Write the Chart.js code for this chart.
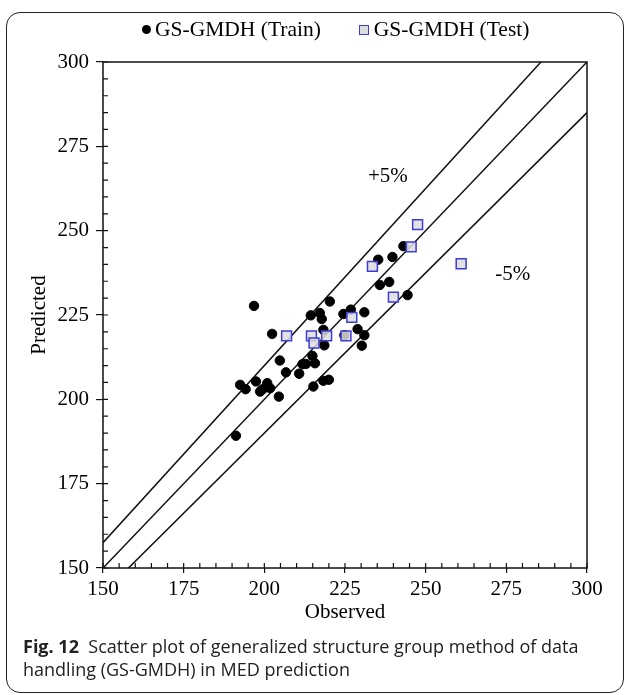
<!DOCTYPE html>
<html lang="en">
<head>
    <meta charset="UTF-8">
    <title>GS-GMDH Scatter</title>
    <script src="https://cdn.jsdelivr.net/npm/chart.js@4/dist/chart.umd.min.js"></script>
    <style>
        body {
            margin: 0;
            width: 627px;
            height: 695px;
            position: relative;
            background: #fff;
            overflow: hidden;
        }
        .frame {
            position: absolute;
            left: 6px;
            top: 12px;
            width: 616px;
            height: 679px;
            border: 1.5px solid #222;
            border-radius: 14px;
        }
        #wrap {
            position: absolute;
            left: 0;
            top: 0;
            width: 627px;
            height: 640px;
        }
        .legend {
            position: absolute;
            left: 142px;
            top: 17px;
            font-family: 'Liberation Serif', 'Times New Roman', serif;
            font-size: 21.5px;
            color: #000;
            display: flex;
            align-items: center;
            white-space: nowrap;
        }
        .dot {
            display: inline-block;
            width: 9px;
            height: 9px;
            border-radius: 50%;
            background: #000;
            margin-right: 4px;
        }
        .sq {
            display: inline-block;
            width: 8px;
            height: 8px;
            background: #ddd;
            border: 1.5px solid #3c3cd8;
            margin-left: 38px;
            margin-right: 5px;
        }
        .caption {
            position: absolute;
            left: 23px;
            top: 635px;
            font-family: 'Open Sans', 'Noto Sans', sans-serif;
            font-size: 18px;
            line-height: 23px;
            color: #222;
            white-space: nowrap;
        }
    </style>
</head>
<body>
    <div class="frame"></div>
    <div id="wrap"><canvas id="chart" width="627" height="640"></canvas></div>
    <div class="legend"><span class="dot"></span>GS-GMDH (Train)<span class="sq"></span>GS-GMDH (Test)</div>
    <div class="caption"><b>Fig. 12</b>&nbsp; Scatter plot of generalized structure group method of data<br>handling (GS-GMDH) in MED prediction</div>

    <script>
        // training points
        const trainObs = [196.8, 220.3, 235.3, 239.7, 243.1, 235.8, 238.7, 244.4, 214.4, 217.2,
                          217.8, 224.5, 226.8, 231.0, 218.3, 228.9, 231.0, 230.2, 202.4, 218.6,
                          224.8, 214.9, 215.7, 211.8, 212.9, 210.8, 204.8, 206.7, 192.5, 194.2,
                          197.4, 198.7, 200.9, 201.8, 199.5, 204.5, 215.2, 218.3, 220.0, 191.2];
        const trainPred = [227.7, 229.0, 241.4, 242.2, 245.4, 233.9, 234.8, 230.9, 224.9, 225.6,
                           223.8, 225.3, 226.6, 225.8, 220.6, 220.8, 219.0, 215.9, 219.4, 216.0,
                           219.0, 212.9, 210.7, 210.4, 210.5, 207.6, 211.5, 208.0, 204.3, 203.0,
                           205.3, 202.3, 204.8, 203.3, 203.0, 200.8, 203.8, 205.5, 205.8, 189.2];

        // test points
        const testObs = [247.5, 245.5, 233.5, 261.0, 240.0, 227.1, 206.9, 214.6, 219.3, 225.3, 215.4];
        const testPred = [251.8, 245.2, 239.4, 240.2, 230.3, 224.3, 218.8, 218.8, 218.8, 218.8, 216.7];

        // reference lines: y = ratio * x
        const lineRatios = [1.05, 1.0, 0.95];
        const axisMin = 150, axisMax = 300;
        const tickValues = [150, 175, 200, 225, 250, 275, 300];
        const bandLabels = [
            { text: '+5%', x: 238.3, y: 266 },
            { text: '-5%', x: 277, y: 237 }
        ];

        const serif = "'Liberation Serif', 'Times New Roman', serif";

        const toPoints = (xs, ys) => xs.map((x, i) => ({ x: x, y: ys[i] }));

        const lineSets = lineRatios.map(r => ({
            type: 'line',
            data: [{ x: axisMin, y: axisMin * r }, { x: axisMax, y: axisMax * r }],
            borderColor: '#111',
            borderWidth: 1.5,
            pointRadius: 0,
            fill: false,
            order: 3
        }));

        // box around plot + small inner ticks + % labels
        const frameTicks = {
            id: 'frameTicks',
            afterDatasetsDraw(chart) {
                const { ctx, chartArea: a, scales } = chart;
                ctx.save();
                ctx.strokeStyle = '#111';
                ctx.lineWidth = 1.5;
                ctx.strokeRect(a.left, a.top, a.right - a.left, a.bottom - a.top);
                ctx.lineWidth = 1.2;
                ctx.beginPath();
                for (let v = axisMin; v <= axisMax; v += 5) {
                    const py = scales.y.getPixelForValue(v);
                    ctx.moveTo(a.left, py);
                    ctx.lineTo(a.left + 5, py);
                    const px = scales.x.getPixelForValue(v);
                    ctx.moveTo(px, a.bottom);
                    ctx.lineTo(px, a.bottom - 5);
                }
                ctx.stroke();
                ctx.fillStyle = '#000';
                ctx.font = '21px ' + serif;
                ctx.textAlign = 'center';
                ctx.textBaseline = 'middle';
                bandLabels.forEach(l => {
                    ctx.fillText(l.text, scales.x.getPixelForValue(l.x), scales.y.getPixelForValue(l.y));
                });
                ctx.restore();
            }
        };

        new Chart(document.getElementById('chart'), {
            type: 'scatter',
            data: {
                datasets: [
                    {
                        label: 'GS-GMDH (Train)',
                        data: toPoints(trainObs, trainPred),
                        backgroundColor: '#000',
                        borderColor: '#000',
                        pointRadius: 4.7,
                        pointStyle: 'circle',
                        order: 2
                    },
                    {
                        label: 'GS-GMDH (Test)',
                        data: toPoints(testObs, testPred),
                        backgroundColor: 'rgba(221,221,221,0.85)',
                        borderColor: '#3c3cd8',
                        borderWidth: 1.5,
                        pointRadius: 7,
                        pointStyle: 'rect',
                        order: 1
                    },
                    ...lineSets
                ]
            },
            options: {
                responsive: false,
                animation: false,
                layout: { padding: { top: 62, right: 40, left: 0, bottom: 0 } },
                plugins: {
                    legend: { display: false },
                    tooltip: { enabled: false }
                },
                scales: {
                    x: {
                        type: 'linear',
                        min: axisMin,
                        max: axisMax,
                        afterBuildTicks: s => { s.ticks = tickValues.map(v => ({ value: v })); },
                        afterFit: s => { s.height = 72; },
                        grid: { drawOnChartArea: false, tickLength: 5, color: '#111', lineWidth: 1.2 },
                        border: { display: false },
                        ticks: { color: '#000', font: { family: serif, size: 21 }, padding: 4, maxRotation: 0 },
                        title: {
                            display: true,
                            text: 'Observed',
                            color: '#000',
                            font: { family: serif, size: 21 },
                            padding: { top: 0, bottom: 15 }
                        }
                    },
                    y: {
                        type: 'linear',
                        min: axisMin,
                        max: axisMax,
                        afterBuildTicks: s => { s.ticks = tickValues.map(v => ({ value: v })); },
                        afterFit: s => { s.width = 103; },
                        grid: { drawOnChartArea: false, tickLength: 7, color: '#111', lineWidth: 1.2 },
                        border: { display: false },
                        ticks: { color: '#000', font: { family: serif, size: 21 }, padding: 7 },
                        title: {
                            display: true,
                            text: 'Predicted',
                            color: '#000',
                            font: { family: serif, size: 21 },
                            padding: { top: 27, bottom: 0 }
                        }
                    }
                }
            },
            plugins: [frameTicks]
        });
    </script>
</body>
</html>
